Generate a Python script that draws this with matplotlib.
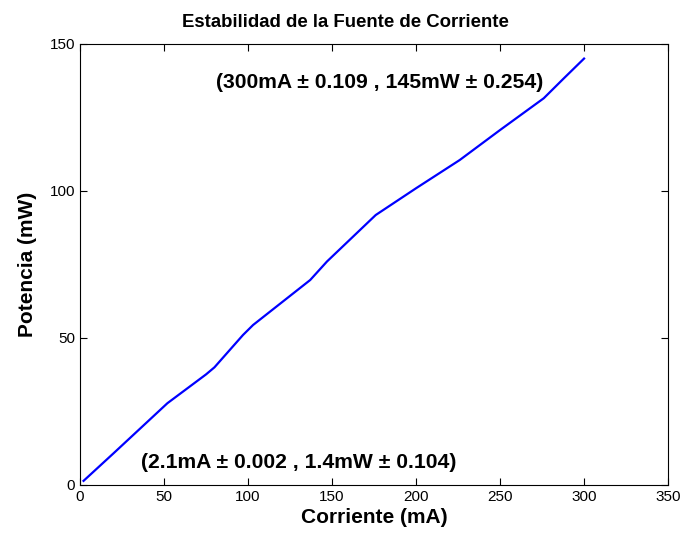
import matplotlib
matplotlib.use("Agg")
import matplotlib.pyplot as plt

plt.rcParams['font.family'] = ['Liberation Sans', 'DejaVu Sans']

corriente = [2.1, 20, 52, 75, 80, 97, 103, 113, 137, 147, 176, 200, 226, 250, 276, 288, 300]
potencia = [1.4, 10.8, 27.8, 37.6, 40.0, 51.0, 54.4, 58.9, 69.7, 76.0, 91.8, 100.9, 110.5, 120.7, 131.5, 138.3, 145.0]
xticks = [0, 50, 100, 150, 200, 250, 300, 350]
yticks = [0, 50, 100, 150]

fig = plt.figure(figsize=(6.81, 5.35), dpi=100)
ax = fig.add_axes([0.1175, 0.0935, 0.8635, 0.8245])
ax.plot(corriente, potencia, color='#0000ff', lw=1.6)
ax.set_xlim(0, 350)
ax.set_ylim(0, 150)
ax.set_xticks(xticks)
ax.set_yticks(yticks)
ax.tick_params(direction='in', top=True, right=True, length=5, labelsize=11)
ax.set_title('Estabilidad de la Fuente de Corriente', fontsize=13.4, fontweight='bold', pad=12, x=0.452)
ax.set_xlabel('Corriente (mA)', fontsize=15, fontweight='bold', labelpad=3)
ax.set_ylabel('Potencia (mW)', fontsize=15, fontweight='bold', labelpad=9)
ax.text(81, 137, '(300mA ± 0.109 , 145mW ± 0.254)', fontsize=15.2, fontweight='bold', va='center', ha='left')
ax.text(36.5, 7.8, '(2.1mA ± 0.002 , 1.4mW ± 0.104)', fontsize=15.2, fontweight='bold', va='center', ha='left')
fig.savefig('out.png', dpi=100)
